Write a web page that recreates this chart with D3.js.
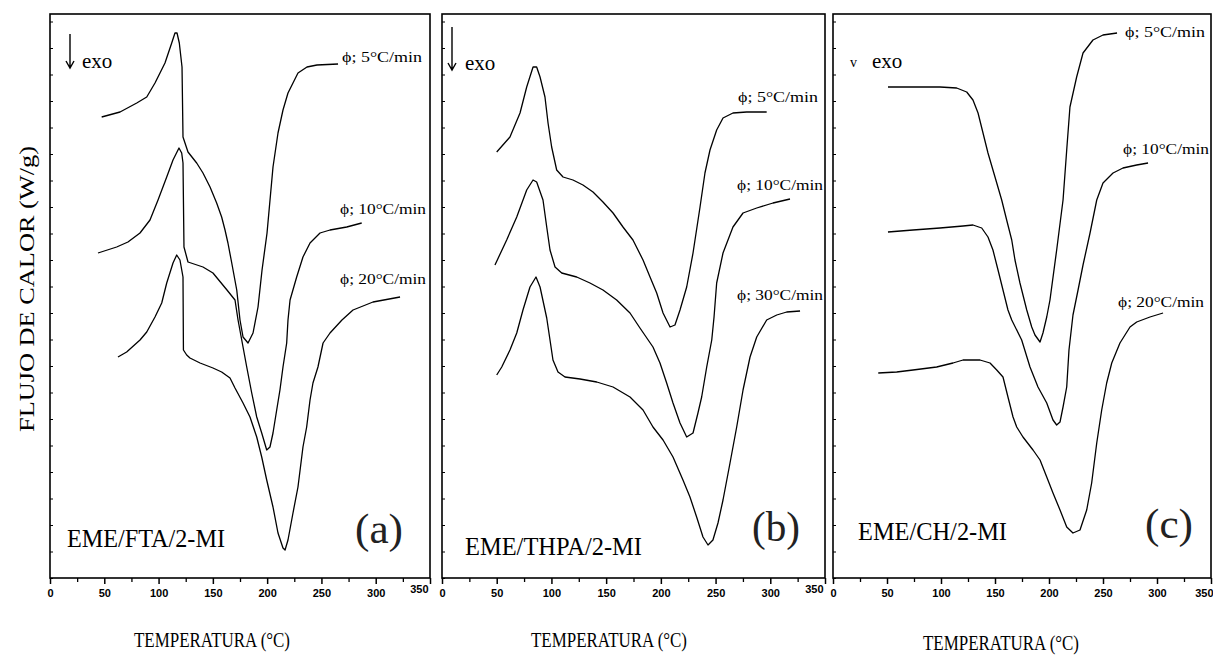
<!DOCTYPE html>
<html lang="es">
<head>
<meta charset="UTF-8" />
<title>Flujo de calor vs temperatura</title>
<script src="https://cdnjs.cloudflare.com/ajax/libs/d3/7.8.5/d3.min.js"></script>
<style>
  * { margin: 0; padding: 0; box-sizing: border-box; }
  body { background: #fff; width: 1213px; height: 655px; overflow: hidden; }
  svg { display: block; }
  .serif { font-family: 'Liberation Serif', 'Times New Roman', serif; fill: #000; }
  .tick text { font-family: 'Liberation Sans', Arial, sans-serif; font-size: 11px; font-weight: bold; }
</style>
</head>
<body>
<svg id="chart" width="1213" height="655"></svg>
<script>
  // -------- Datos (temperatura en °C, flujo de calor en unidades arbitrarias) --------
  const xTicks = [0, 50, 100, 150, 200, 250, 300, 350];
  const xMinor = [25, 75, 125, 175, 225, 275, 325];

  // (a) EME/FTA/2-MI
  const tempA5  = [47.6,64.5,79.9,89.1,96.7,105.9,112.1,115.1,117.0,119.1,121.6,122.5,127.1,135.1,140.9,147.4,153.5,158.1,161.2,163.9,167.4,172.0,175.0,177.8,182.4,187.0,191.6,195.3,199.9,205.4,210.0,214.6,219.2,228.4,236.7,245.9,265.3];
  const flowA5  = [46.1,46.6,47.5,48.1,49.5,51.5,53.5,54.5,54.5,53.5,51.1,44.1,42.6,41.5,40.5,39.1,37.5,36.1,34.8,33.5,31.5,28.8,25.8,24.1,23.5,24.5,27.1,30.8,34.5,41.1,44.5,46.8,48.5,50.5,51.1,51.3,51.4];
  const tempA10 = [44.2,61.4,71.8,82.9,92.1,99.5,107.5,113.3,118.8,121.3,122.5,123.4,127.1,140.9,150.1,163.0,170.4,173.2,176.6,181.2,185.8,190.4,195.0,199.6,202.6,205.4,208.8,211.8,214.6,218.0,219.2,221.1,227.2,233.0,239.5,248.7,257.9,273.3,287.1];
  const flowA10 = [32.5,33.1,33.6,34.5,35.8,37.8,40.1,41.8,43.0,42.5,41.5,33.1,31.6,31.1,30.5,28.8,27.8,25.8,23.8,21.1,18.5,16.1,14.5,12.8,13.1,14.5,16.8,18.8,21.1,23.5,25.8,27.8,30.1,32.1,33.5,34.5,34.8,35.1,35.5];
  const tempA20 = [62.6,70.6,82.9,89.1,96.7,102.9,107.5,113.3,116.7,119.7,122.5,122.9,125.9,128.9,138.2,150.1,158.1,165.8,170.4,177.8,184.2,190.4,195.0,199.6,205.4,210.0,214.6,216.5,219.2,223.8,228.4,233.0,236.4,239.5,242.2,246.8,251.5,257.9,268.9,279.1,297.5,322.4];
  const flowA20 = [22.1,22.6,23.8,24.6,26.1,27.5,29.5,31.5,32.3,31.8,30.1,22.8,22.3,22.0,21.5,21.0,20.6,20.0,19.0,17.5,16.1,14.1,12.1,9.8,7.1,4.5,3.0,2.8,3.8,6.5,9.1,13.1,15.1,17.8,19.5,21.1,23.5,24.5,25.8,26.8,27.6,28.1];

  // (b) EME/THPA/2-MI
  const tempB5  = [50.0,62.1,71.3,77.4,83.2,86.5,89.6,94.1,96.9,100.2,104.8,110.6,119.7,128.8,138.0,147.1,156.3,165.4,174.5,183.7,190.1,196.2,202.0,208.4,212.9,217.5,223.6,229.4,235.8,240.3,244.9,251.0,256.8,265.9,278.4,296.7];
  const flowB5  = [42.6,44.1,46.5,49.1,51.1,51.1,50.1,48.1,45.5,43.1,40.8,40.1,39.8,39.3,38.6,37.6,36.5,35.1,33.8,31.8,30.1,28.5,26.5,25.1,25.3,26.8,29.1,32.5,37.1,40.5,42.8,44.8,46.0,46.5,46.6,46.6];
  const tempB10 = [48.4,59.1,68.3,77.4,83.2,86.5,92.3,95.7,98.7,103.3,109.4,123.1,135.2,147.1,159.6,171.8,180.9,192.8,199.2,205.3,211.1,217.5,223.6,229.4,233.9,237.3,241.9,246.5,248.6,251.0,256.8,265.9,275.1,287.6,302.5,318.0];
  const flowB10 = [31.3,33.8,36.1,38.8,39.8,39.6,37.8,35.1,32.8,31.1,30.5,30.1,29.5,28.8,27.8,26.5,25.0,23.1,21.5,19.5,17.5,15.5,14.1,14.5,16.5,18.1,21.1,23.8,26.1,29.5,32.5,35.1,36.5,37.0,37.5,37.9];
  const tempB30 = [50.0,54.6,62.1,68.3,74.0,80.4,85.9,89.6,95.7,98.7,101.4,106.0,112.4,126.1,141.4,156.3,171.8,183.7,192.8,202.0,211.1,220.2,226.6,232.7,238.5,243.1,247.6,252.2,256.8,263.2,269.3,275.1,281.5,287.6,296.7,305.9,315.0,327.2];
  const flowB30 = [20.3,21.1,22.8,24.5,26.8,29.1,30.1,29.1,26.0,23.8,21.8,20.6,20.1,19.9,19.6,19.1,18.1,16.8,15.1,13.8,12.1,9.8,8.1,6.1,4.1,3.3,3.8,5.5,7.8,11.5,15.1,18.8,22.1,24.1,25.8,26.3,26.6,26.7];

  // (c) EME/CH/2-MI
  const tempC5  = [50.9,74.1,99.1,114.5,123.8,129.6,134.3,138.9,143.5,150.0,156.2,160.8,165.5,168.5,173.1,179.4,184.0,187.0,191.7,194.4,197.9,200.9,207.1,213.0,216.4,219.4,225.6,231.5,240.7,250.0,263.0];
  const flowC5  = [49.1,49.1,49.1,49.0,48.6,47.8,46.5,44.5,42.5,40.1,37.8,35.8,33.8,31.8,29.5,26.8,25.1,24.3,23.6,24.5,26.1,27.8,32.8,37.8,42.8,47.1,50.1,52.5,53.8,54.3,54.5];
  const tempC10 = [50.9,74.1,99.1,120.4,129.6,137.7,143.5,148.1,152.8,157.4,162.0,165.5,174.7,182.4,189.8,197.9,203.7,207.1,210.2,213.0,216.4,218.5,222.2,226.9,231.5,238.0,244.2,250.0,259.3,268.5,281.2,291.7];
  const flowC10 = [34.6,34.8,35.0,35.2,35.3,35.0,34.1,32.8,30.8,28.8,26.8,25.8,23.8,21.1,19.1,17.5,15.8,15.3,15.6,17.1,19.1,22.8,26.3,28.8,31.3,34.5,37.8,39.5,40.5,41.0,41.3,41.5];
  const tempC20 = [41.9,59.0,74.1,96.0,111.1,120.4,136.1,145.4,151.6,157.4,162.0,166.7,170.1,175.9,185.2,191.7,197.9,203.7,210.2,216.4,222.2,228.7,234.9,239.5,244.2,248.8,253.4,258.1,265.7,275.0,281.2,293.5,305.6];
  const flowC20 = [20.5,20.6,20.8,21.1,21.5,21.8,21.8,21.5,20.8,20.1,18.1,16.1,15.1,14.1,12.8,11.8,10.1,8.5,6.8,5.1,4.5,4.8,6.8,9.5,13.5,16.8,19.5,21.5,23.5,25.1,25.6,26.1,26.5];

  const rateLabels = [
    ["ϕ; 5°C/min", "ϕ; 10°C/min", "ϕ; 20°C/min"],
    ["ϕ; 5°C/min", "ϕ; 10°C/min", "ϕ; 30°C/min"],
    ["ϕ; 5°C/min", "ϕ; 10°C/min", "ϕ; 20°C/min"]
  ];
  const systems = ["EME/FTA/2-MI", "EME/THPA/2-MI", "EME/CH/2-MI"];
  const letters = ["(a)", "(b)", "(c)"];
  const xTitle = "TEMPERATURA (°C)";
  const yTitle = "FLUJO DE CALOR (W/g)";

  // -------- Layout --------
  const plotTop = 14, plotBottom = 578;
  const panels = [
    { x0: 50,  x1: 430,  series: [[tempA5, flowA5], [tempA10, flowA10], [tempA20, flowA20]],
      labelPos: [[342, 62], [340, 214], [340, 284]], sysPos: [67, 547, 158], letPos: [355, 543], exo: "arrow", exoX: 70, exoY: [34, 68], exoTx: 82, titleX: 212, titleY: 647 },
    { x0: 442, x1: 825,  series: [[tempB5, flowB5], [tempB10, flowB10], [tempB30, flowB30]],
      labelPos: [[738, 102], [737, 190], [737, 300]], sysPos: [465, 555, 177], letPos: [752, 541], exo: "arrow", exoX: 452, exoY: [27, 70], exoTx: 465, titleX: 609, titleY: 647 },
    { x0: 833, x1: 1211, series: [[tempC5, flowC5], [tempC10, flowC10], [tempC20, flowC20]],
      labelPos: [[1125, 37], [1123, 154], [1118, 307]], sysPos: [858, 540, 149], letPos: [1145, 538], exo: "v", exoX: 850, exoY: [60, 68], exoTx: 872, titleX: 1001, titleY: 650 }
  ];

  const svg = d3.select("#chart");
  svg.append("rect").attr("width", 1213).attr("height", 655).attr("fill", "#fff");

  const y = d3.scaleLinear().domain([0, 56.4]).range([plotBottom, plotTop]);
  const yTicks = d3.range(0, 56.4, 2.65);

  panels.forEach((p, i) => {
    const x = d3.scaleLinear().domain([0, 350]).range([p.x0, p.x1]);
    const g = svg.append("g");

    // caja
    g.append("rect")
      .attr("x", p.x0).attr("y", plotTop)
      .attr("width", p.x1 - p.x0).attr("height", plotBottom - plotTop)
      .attr("fill", "none").attr("stroke", "#000").attr("stroke-width", 1.6);

    // eje x: mayores + menores
    const ax = g.append("g").attr("transform", `translate(0,${plotBottom})`)
      .call(d3.axisBottom(x).tickValues(xTicks).tickSize(6).tickPadding(5).tickFormat(d3.format("d")));
    ax.select(".domain").remove();
    ax.selectAll("line").attr("stroke-width", 1.5);
    if (i < 2) {
      ax.selectAll(".tick").filter(d => d === 350).select("text")
        .attr("text-anchor", "end").attr("dx", -2).attr("dy", "0.4em");
    } else {
      ax.selectAll(".tick").filter(d => d === 350).select("text")
        .attr("text-anchor", "end").attr("dx", 2);
    }
    const axm = g.append("g").attr("transform", `translate(0,${plotBottom})`)
      .call(d3.axisBottom(x).tickValues(xMinor).tickSize(4).tickFormat(""));
    axm.select(".domain").remove();
    axm.selectAll("line").attr("stroke-width", 1.3);

    // eje y: solo marcas hacia dentro
    const ay = g.append("g").attr("transform", `translate(${p.x0},0)`)
      .call(d3.axisRight(y).tickValues(yTicks).tickSize(3).tickFormat(""));
    ay.select(".domain").remove();

    // curvas
    const line = d3.line().x(d => x(d[0])).y(d => y(d[1]));
    p.series.forEach(([t, f]) => {
      g.append("path")
        .datum(d3.zip(t, f))
        .attr("fill", "none").attr("stroke", "#000")
        .attr("stroke-width", 1.3).attr("stroke-linejoin", "round")
        .attr("d", line);
    });

    // etiquetas de velocidad
    rateLabels[i].forEach((lab, k) => {
      g.append("text").attr("class", "serif")
        .attr("x", p.labelPos[k][0]).attr("y", p.labelPos[k][1])
        .attr("font-size", 15)
        .attr("textLength", k === 0 ? 80 : 86).attr("lengthAdjust", "spacingAndGlyphs")
        .text(lab);
    });

    // exo
    if (p.exo === "arrow") {
      g.append("path")
        .attr("d", `M${p.exoX},${p.exoY[0]}V${p.exoY[1]}M${p.exoX - 4},${p.exoY[1] - 7}L${p.exoX},${p.exoY[1]}L${p.exoX + 4},${p.exoY[1] - 7}`)
        .attr("fill", "none").attr("stroke", "#000").attr("stroke-width", 1.4);
    } else {
      g.append("text").attr("class", "serif")
        .attr("x", p.exoX).attr("y", p.exoY[1] - 1).attr("font-size", 14).text("v");
    }
    g.append("text").attr("class", "serif")
      .attr("x", p.exoTx).attr("y", p.exoY[1])
      .attr("font-size", 21).text("exo");

    // sistema y letra
    g.append("text").attr("class", "serif")
      .attr("x", p.sysPos[0]).attr("y", p.sysPos[1])
      .attr("font-size", 26)
      .attr("textLength", p.sysPos[2]).attr("lengthAdjust", "spacingAndGlyphs")
      .text(systems[i]);
    g.append("text").attr("class", "serif")
      .attr("x", p.letPos[0]).attr("y", p.letPos[1])
      .attr("font-size", 42).style("fill", "#222")
      .attr("textLength", 48).attr("lengthAdjust", "spacingAndGlyphs")
      .text(letters[i]);

    // título eje x
    g.append("text").attr("class", "serif")
      .attr("x", p.titleX).attr("y", p.titleY)
      .attr("text-anchor", "middle").attr("font-size", 20)
      .attr("textLength", 156).attr("lengthAdjust", "spacingAndGlyphs")
      .text(xTitle);
  });

  // título eje y
  svg.append("text").attr("class", "serif")
    .attr("transform", "translate(34,289) rotate(-90)")
    .attr("text-anchor", "middle").attr("font-size", 22)
    .attr("textLength", 286).attr("lengthAdjust", "spacingAndGlyphs")
    .text(yTitle);
</script>
</body>
</html>
